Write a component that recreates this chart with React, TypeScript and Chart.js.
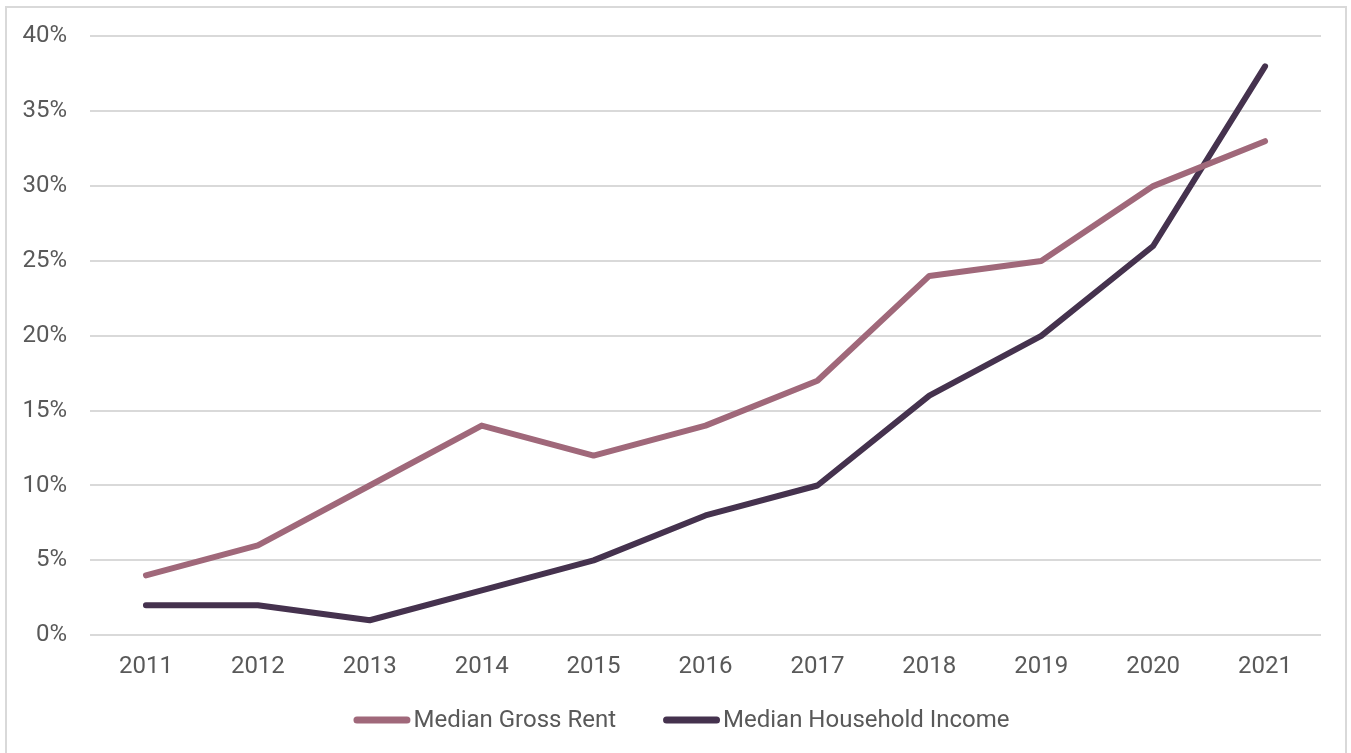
import React, { useEffect, useRef } from "react";
import { Chart, registerables } from "chart.js";

Chart.register(...registerables);

const years = ["2011", "2012", "2013", "2014", "2015", "2016", "2017", "2018", "2019", "2020", "2021"];
const medianGrossRent = [4, 6, 10, 14, 12, 14, 17, 24, 25, 30, 33];
const medianHouseholdIncome = [2, 2, 1, 3, 5, 8, 10, 16, 20, 26, 38];
const seriesNames = ["Median Gross Rent", "Median Household Income"];
const seriesColors = ["#A0687A", "#45324E"];

const FONT = "24px Roboto";
const TEXT_COLOR = "#595959";

const bottomLegend = {
  id: "bottomLegend",
  afterDraw(chart: any) {
    const ctx = chart.ctx;
    const markerW = 57;
    const markerGap = 4;
    const itemGap = 48;
    ctx.save();
    ctx.font = FONT;
    const items = chart.data.datasets.map((ds: any) => ({
      label: ds.label,
      color: ds.borderColor,
      w: markerW + markerGap + ctx.measureText(ds.label).width,
    }));
    const total = items.reduce((a: number, it: any) => a + it.w, 0) + itemGap * (items.length - 1);
    let x = chart.width / 2 + 6 - total / 2;
    const y = chart.height - 33;
    items.forEach((it: any) => {
      ctx.strokeStyle = it.color;
      ctx.lineWidth = 7;
      ctx.lineCap = "round";
      ctx.beginPath();
      ctx.moveTo(x + 3.5, y);
      ctx.lineTo(x + markerW - 3.5, y);
      ctx.stroke();
      ctx.fillStyle = TEXT_COLOR;
      ctx.textBaseline = "middle";
      ctx.textAlign = "left";
      ctx.fillText(it.label, x + markerW + markerGap - 1, y + 1);
      x += it.w + itemGap - 2;
    });
    ctx.restore();
  },
};

export default function App() {
  const ref = useRef<HTMLCanvasElement | null>(null);

  useEffect(() => {
    if (!ref.current) return;
    const chart = new Chart(ref.current, {
      type: "line",
      data: {
        labels: years,
        datasets: [
          {
            label: seriesNames[0],
            data: medianGrossRent,
            borderColor: seriesColors[0],
            backgroundColor: seriesColors[0],
            borderWidth: 6,
            pointRadius: 0,
            borderCapStyle: "round",
            borderJoinStyle: "round",
            tension: 0,
          },
          {
            label: seriesNames[1],
            data: medianHouseholdIncome,
            borderColor: seriesColors[1],
            backgroundColor: seriesColors[1],
            borderWidth: 6,
            pointRadius: 0,
            borderCapStyle: "round",
            borderJoinStyle: "round",
            tension: 0,
          },
        ],
      },
      plugins: [bottomLegend],
      options: {
        animation: false,
        responsive: true,
        maintainAspectRatio: false,
        layout: { padding: { left: 0, right: 26, top: 2, bottom: 55 } },
        plugins: {
          tooltip: { enabled: false },
          legend: { display: false },
        },
        scales: {
          x: {
            offset: true,
            grid: { display: false, drawTicks: false },
            border: { display: false },
            ticks: {
              color: TEXT_COLOR,
              font: { family: "Roboto", size: 24 },
              padding: 17,
              maxRotation: 0,
            },
          },
          y: {
            min: 0,
            max: 40,
            afterFit: (s: any) => {
              s.width = 83;
            },
            grid: { color: "#D9D9D9", lineWidth: 2, drawTicks: false },
            border: { display: false },
            ticks: {
              stepSize: 5,
              color: TEXT_COLOR,
              font: { family: "Roboto", size: 24 },
              padding: 23,
              callback: (v: any) => v + "%",
            },
          },
        },
      },
    });
    return () => chart.destroy();
  }, []);

  return (
    <div
      style={{
        position: "absolute",
        left: 5,
        top: 6,
        width: 1342,
        height: 760,
        border: "2px solid #D9D9D9",
        boxSizing: "border-box",
        background: "#fff",
      }}
    >
      <div style={{ position: "absolute", left: 0, top: -9, width: 1340, height: 754 }}>
        <canvas ref={ref} />
      </div>
    </div>
  );
}
